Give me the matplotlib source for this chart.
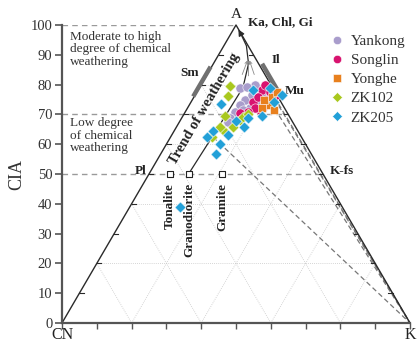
import numpy as np
import matplotlib
matplotlib.use("Agg")
import matplotlib.pyplot as plt
from matplotlib.lines import Line2D

plt.rcParams['font.family'] = ['Liberation Serif', 'DejaVu Serif']

# ---- sample compositions: A (=CIA) and K, in molar percent of A+CN+K ----
yankong_A = [78.9, 79.9, 79.2, 77.2, 74.8, 73.2, 70.8, 68.8, 72.1, 73.5, 71.5, 67.4, 76.5]
yankong_K = [11.7, 15.5, 13.6, 18.9, 15.2, 14.5, 14.3, 13.9, 18.0, 19.0, 16.3, 14.0, 16.4]

songlin_A = [78.2, 74.2, 72.5, 77.5, 75.8, 74.8, 71.5, 74.2, 72.1, 70.8, 79.9, 76.5, 70.5]
songlin_K = [18.4, 17.8, 21.5, 21.0, 18.4, 21.2, 21.1, 23.2, 19.4, 18.0, 18.3, 23.2, 15.9]

yonghe_A = [75.8, 73.2, 72.1, 74.8, 77.5, 71.5]
yonghe_K = [22.4, 23.2, 21.4, 20.6, 23.1, 25.2]

zk102_A = [79.5, 76.2, 69.5, 68.1, 65.8, 64.8, 69.1, 65.8, 70.1, 62.4]
zk102_K = [8.5, 9.6, 12.1, 17.1, 16.2, 13.9, 17.5, 12.5, 18.4, 11.9]

zk205_A = [73.5, 78.9, 78.2, 62.4, 64.4, 63.1, 60.1, 56.7, 38.9, 67.8, 68.8, 69.5, 74.2, 76.5, 65.8]
zk205_K = [8.9, 20.3, 15.8, 10.5, 11.2, 16.2, 15.4, 16.0, 14.5, 16.1, 19.0, 22.8, 23.8, 25.0, 19.4]

# rock compositions on the CIA = 50 line
rock_names = ["Tonalite", "Granodiorite", "Gramite"]
rock_A = [50, 50, 50]
rock_K = [6.0, 11.5, 21.0]

# reference lines towards the K apex (start compositions)
kline_A = [62.4, 76.5, 78.2, 79.9]
kline_K = [12.2, 20.4, 20.7, 18.7]

# mineral bars along the triangle sides (CIA ranges)
sm_range = (76, 86)     # smectite on A-CN side
il_range = (75, 87)     # illite / muscovite on A-K side

cia_ticks = list(range(0, 101, 10))


def to_xy(A, K):
    A = np.asarray(A, float)
    K = np.asarray(K, float)
    return K + A / 2.0, A


fig = plt.figure(figsize=(4.2, 3.46), dpi=100)
ax = fig.add_axes([62 / 420, 23 / 346, 348 / 420, 298 / 346])
ax.set_xlim(0, 100)
ax.set_ylim(0, 100)

for s in ("top", "right"):
    ax.spines[s].set_visible(False)
for s in ("left", "bottom"):
    ax.spines[s].set_color("#555555")
    ax.spines[s].set_linewidth(1.6)

ax.set_yticks(cia_ticks)
ax.set_yticklabels([str(t) for t in cia_ticks], fontsize=10.5, color="#333333")
ax.set_xticks(cia_ticks)
ax.set_xticklabels([])
ax.tick_params(axis="y", direction="out", length=5, width=1.2, color="#555555", pad=2)
ax.tick_params(axis="x", direction="out", length=4, width=1.0, color="#555555")
ax.set_ylabel("CIA", fontsize=13, color="#333333", labelpad=4)

# ternary grid (20 % steps)
grid_kw = dict(color="#c8c8c8", lw=0.6, ls=(0, (1, 1.5)), zorder=0)
for f in (20, 40, 60, 80):
    ax.plot([f / 2, 100 - f / 2], [f, f], **grid_kw)
    ax.plot([f, 50 + f / 2], [0, 100 - f], **grid_kw)
    ax.plot([f, f / 2], [0, f], **grid_kw)

# horizontal CIA reference lines
ref_kw = dict(color="#9a9a9a", lw=1.0, ls=(0, (4, 3)), zorder=1)
ax.plot([0, 50], [100, 100], **ref_kw)
ax.plot([0, 100 - 70 / 2], [70, 70], **ref_kw)
ax.plot([0, 100 - 50 / 2], [50, 50], **ref_kw)

# triangle edges
ax.plot([0, 50, 100], [0, 100, 0], color="#2a2a2a", lw=1.0, zorder=2, clip_on=False)

# side ticks every 10 %
for t in np.arange(0.1, 1.0, 0.1):
    x0, y0 = 50 * t, 100 * t
    ax.plot([x0, x0 + 1.2], [y0, y0], color="#2a2a2a", lw=0.8, zorder=2)
    x1, y1 = 100 - 50 * t, 100 * t
    ax.plot([x1, x1 - 1.2], [y1, y1], color="#2a2a2a", lw=0.8, zorder=2)

# lines to K apex
for A, K in zip(kline_A, kline_K):
    x, y = to_xy(A, K)
    ax.plot([x, 100], [y, 0], color="#777777", lw=0.9, ls=(0, (4, 2.5)), zorder=1)

# mineral bars
a0, a1 = sm_range
ax.plot([a0 / 2 - 0.3, a1 / 2 - 0.3], [a0, a1], color="#707070", lw=3.2,
        solid_capstyle="butt", zorder=3)
a0, a1 = il_range
ax.plot([100 - a0 / 2 + 1.0, 100 - a1 / 2 + 1.0], [a0, a1], color="#707070", lw=3.2,
        solid_capstyle="butt", zorder=3)

# weathering trend arrow from granodiorite towards A
tx = [36.8, 44.0, 52.0, 53.6, 53.0, 51.4]
ty = [50.8, 64.0, 79.0, 87.0, 93.0, 97.0]
ax.plot(tx, ty, color="#2a2a2a", lw=0.9, zorder=2)
ax.annotate("", xy=(50.3, 99.3), xytext=(51.4, 97.0),
            arrowprops=dict(arrowstyle="-|>", color="#2a2a2a", lw=0.9,
                            mutation_scale=9), zorder=3)
# small fan of trend arrows
fan_x0, fan_y0 = 53.6, 89.0
for ex, ey in [(51.5, 82.5), (53.6, 82.0), (55.5, 82.5)]:
    ax.annotate("", xy=(fan_x0, fan_y0), xytext=(ex, ey),
                arrowprops=dict(arrowstyle="->", color="#8a8a8a", lw=0.6,
                                mutation_scale=5), zorder=2)

ax.text(40.8, 72.0, "Trend of weathering", rotation=59.7, ha="center", va="center",
        fontsize=10.5, fontweight="bold", color="#222222", rotation_mode="anchor")

# rock markers and labels
rx, ry = to_xy(rock_A, rock_K)
ax.scatter(rx, ry, marker="s", s=22, facecolor="white", edgecolor="#222222",
           linewidth=0.8, zorder=4)
for x, y, name in zip(rx, ry, rock_names):
    ax.text(x, y - 3.0, name, rotation=90, ha="center", va="top", fontsize=9.5,
            fontweight="bold", color="#222222")

# samples
series = [
    (yankong_A, yankong_K, "o", "#a99dcc", 44, "Yankong"),
    (songlin_A, songlin_K, "o", "#d8136f", 44, "Songlin"),
    (yonghe_A, yonghe_K, "s", "#e8801e", 38, "Yonghe"),
    (zk102_A, zk102_K, "D", "#a9c81e", 32, "ZK102"),
    (zk205_A, zk205_K, "D", "#22a0d8", 32, "ZK205"),
]
handles = []
for A, K, m, fc, s, lab in series:
    x, y = to_xy(A, K)
    ax.scatter(x, y, marker=m, s=s, facecolor=fc, edgecolor="white", linewidth=0.4,
               zorder=5)
    handles.append(Line2D([], [], ls="none", marker=m, markersize=6 if m != "D" else 5.5,
                          markerfacecolor=fc, markeredgecolor="white",
                          markeredgewidth=0.4, label=lab))

leg = ax.legend(handles=handles, loc="upper left", bbox_to_anchor=(320 / 420, 1 - 27 / 346),
                bbox_transform=fig.transFigure, frameon=False, fontsize=11,
                handletextpad=0.3, handlelength=1.2, labelspacing=0.35, borderpad=0)
for t in leg.get_texts():
    t.set_color("#333333")

# corner and mineral labels
ax.text(50, 101.5, "A", ha="center", va="bottom", fontsize=11, color="#222222")
ax.text(53.5, 99.0, "Ka, Chl, Gi", ha="left", va="bottom", fontsize=9.5,
        fontweight="bold", color="#222222")
ax.text(36.8, 84.0, "Sm", ha="center", va="center", fontsize=9.5, fontweight="bold",
        color="#222222")
ax.text(61.5, 88.2, "Il", ha="center", va="center", fontsize=9.5, fontweight="bold",
        color="#222222")
ax.text(67.0, 78.0, "Mu", ha="center", va="center", fontsize=9.5, fontweight="bold",
        color="#222222")
ax.text(22.5, 51.0, "Pl", ha="center", va="center", fontsize=9.5, fontweight="bold",
        color="#222222")
ax.text(80.4, 51.0, "K-fs", ha="center", va="center", fontsize=9.5, fontweight="bold",
        color="#222222")
ax.text(0, -1.2, "CN", ha="center", va="top", fontsize=11.5, color="#222222")
ax.text(100, -1.2, "K", ha="center", va="top", fontsize=11.5, color="#222222")

ax.text(2.2, 98.0, "Moderate to high\ndegree of chemical\nweathering", ha="left", va="top",
        fontsize=9.5, color="#333333", linespacing=1.05)
ax.text(2.2, 69.0, "Low degree\nof chemical\nweathering", ha="left", va="top",
        fontsize=9.5, color="#333333", linespacing=1.05)

fig.savefig("out.png", dpi=100)
